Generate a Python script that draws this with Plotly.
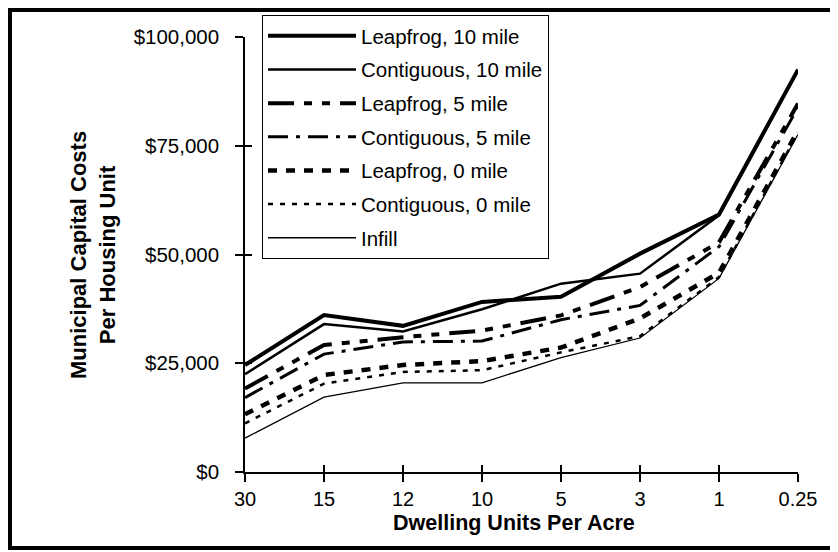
import plotly.graph_objects as go

categories = ["30", "15", "12", "10", "5", "3", "1", "0.25"]

leapfrog_10 = [24600, 36100, 33600, 39100, 40300, 50200, 59200, 92500]
contiguous_10 = [22500, 34000, 32300, 37400, 43300, 45600, 59000, 92300]
leapfrog_5 = [19200, 29200, 31000, 32500, 36000, 42500, 52800, 84700]
contiguous_5 = [17100, 27100, 29900, 30100, 35000, 38300, 51800, 83800]
leapfrog_0 = [13300, 22300, 24600, 25500, 28600, 35300, 45800, 78500]
contiguous_0 = [11200, 20300, 23000, 23400, 27500, 31200, 44800, 78000]
infill = [7800, 17200, 20500, 20500, 26300, 30800, 44500, 77600]

y_tickvals = [0, 25000, 50000, 75000, 100000]
y_ticktext = ["$0", "$25,000", "$50,000", "$75,000", "$100,000"]

series = [
    ("Leapfrog, 10 mile", leapfrog_10, dict(width=4, dash="solid")),
    ("Contiguous, 10 mile", contiguous_10, dict(width=2.5, dash="solid")),
    ("Leapfrog, 5 mile", leapfrog_5, dict(width=4, dash="26px,10px,8px,10px,8px,10px")),
    ("Contiguous, 5 mile", contiguous_5, dict(width=3, dash="20px,8px,4px,8px")),
    ("Leapfrog, 0 mile", leapfrog_0, dict(width=4.5, dash="9px,9px")),
    ("Contiguous, 0 mile", contiguous_0, dict(width=2.5, dash="5px,7px")),
    ("Infill", infill, dict(width=1.3, dash="solid")),
]

FONT = "Liberation Sans, Arial, sans-serif"

fig = go.Figure()
for i, (name, vals, ln) in enumerate(series):
    fig.add_trace(go.Scatter(
        x=categories, y=vals, name=name, mode="lines",
        line=dict(color="black", **ln), legendgroup=f"g{i}",
        hoverinfo="x+y+name",
    ))

# invisible trace carrying the overlaid axes that draw the inner half of the crossing ticks
fig.add_trace(go.Scatter(
    x=categories, y=infill, xaxis="x2", yaxis="y2", mode="lines",
    line=dict(color="rgba(0,0,0,0)", width=1), showlegend=False, hoverinfo="skip",
))

OFF = 8  # page body margin
W, H = 838 - OFF, 552 - OFF
L, R, T, B = 245 - OFF, 40, 37 - OFF, 80
pw = W - L - R
ph = H - T - B

def px_x(x):
    return (x - OFF - L) / pw

def px_y(y):
    return (T + ph - (y - OFF)) / ph

fig.update_layout(
    width=W, height=H,
    margin=dict(l=L, r=R, t=T, b=B, pad=0, autoexpand=False),
    paper_bgcolor="white", plot_bgcolor="white",
    font=dict(family=FONT, size=20, color="black"),
    showlegend=True,
    legend=dict(
        x=px_x(262), y=px_y(15), xanchor="left", yanchor="top",
        bgcolor="white", bordercolor="black", borderwidth=1,
        font=dict(family=FONT, size=20.5, color="black"),
        tracegroupgap=4.0, traceorder="grouped", itemwidth=88,
    ),
    xaxis=dict(
        type="category", range=[0, 7], showgrid=False, zeroline=False,
        showline=True, linecolor="black", linewidth=1.5,
        ticks="outside", ticklen=8, tickwidth=1.5, tickcolor="black",
        tickfont=dict(family=FONT, size=20, color="black"),
        ticklabelstandoff=0,
    ),
    yaxis=dict(
        range=[0, 100000], showgrid=False, zeroline=False,
        showline=True, linecolor="black", linewidth=1.5,
        ticks="outside", ticklen=8, tickwidth=1.5, tickcolor="black",
        tickvals=y_tickvals, ticktext=y_ticktext,
        tickfont=dict(family=FONT, size=20.5, color="black"),
        ticklabelstandoff=12,
    ),
    xaxis2=dict(
        type="category", range=[0, 7], overlaying="x", showgrid=False, zeroline=False,
        showline=False, ticks="inside", ticklen=7, tickwidth=1.5, tickcolor="black",
        showticklabels=False,
    ),
    yaxis2=dict(
        range=[0, 100000], overlaying="y", showgrid=False, zeroline=False,
        showline=False, ticks="inside", ticklen=7, tickwidth=1.5, tickcolor="black",
        tickvals=y_tickvals, showticklabels=False,
    ),
    annotations=[
        dict(text="<b>Municipal Capital Costs<br>Per Housing Unit</b>",
             xref="paper", yref="paper", x=px_x(93), y=px_y(255),
             xanchor="center", yanchor="middle", textangle=-90, showarrow=False,
             font=dict(family=FONT, size=22, color="black")),
        dict(text="<b>Dwelling Units Per Acre</b>",
             xref="paper", yref="paper", x=px_x(514), y=px_y(523),
             xanchor="center", yanchor="middle", showarrow=False,
             font=dict(family=FONT, size=21.5, color="black")),
    ],
    shapes=[
        dict(type="rect", xref="paper", yref="paper",
             x0=px_x(10), x1=px_x(832), y0=px_y(548), y1=px_y(10),
             line=dict(color="black", width=4), fillcolor="rgba(0,0,0,0)", layer="above"),
    ],
)

fig.write_html("out.html")
